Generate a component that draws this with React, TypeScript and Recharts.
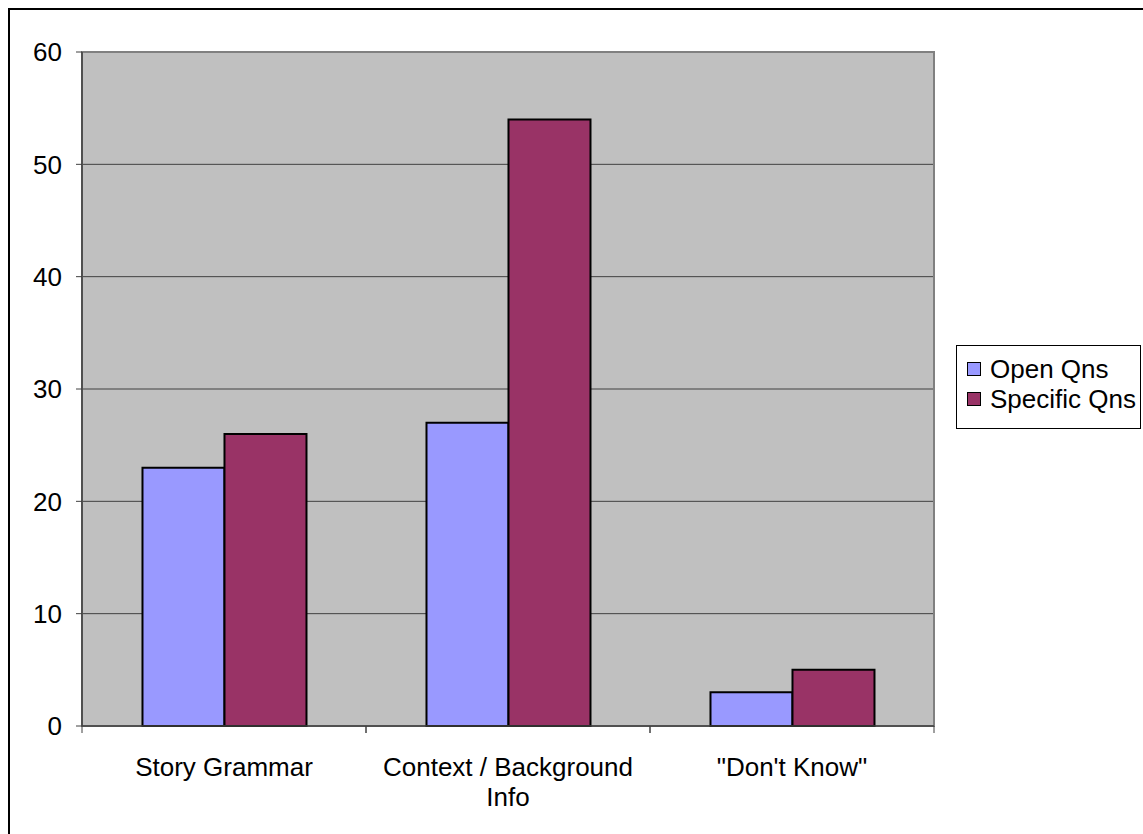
import React from "react";
import { BarChart, Bar, XAxis, YAxis, CartesianGrid, Legend, ReferenceArea } from "recharts";

const categories = ["Story Grammar", "Context / Background Info", "\"Don't Know\""];
const categoryLines = [["Story Grammar"], ["Context / Background", "Info"], ["\"Don't Know\""]];
const openQns = [23, 27, 3];
const specificQns = [26, 54, 5];
const yTicks = [0, 10, 20, 30, 40, 50, 60];
const seriesNames = ["Open Qns", "Specific Qns"];
const seriesColors = ["#9999FF", "#993366"];

const data = categories.map((c, i) => ({
  name: c,
  open: openQns[i],
  specific: specificQns[i],
}));

const FONT = "'Liberation Sans', Arial, sans-serif";

const CatTick = (props: any) => {
  const { x, y, payload, index } = props;
  const off = payload && typeof payload.offset === "number" ? payload.offset : 142;
  const lines = categoryLines[index] || [String(payload.value)];
  return (
    <g>
      <line x1={x - off} y1={y} x2={x - off} y2={y + 7} stroke="#404040" strokeWidth={1} />
      <line x1={x + off} y1={y} x2={x + off} y2={y + 7} stroke="#404040" strokeWidth={1} />
      {lines.map((l: string, k: number) => (
        <text key={k} x={x} y={y + 50 + k * 30} textAnchor="middle" fill="#000" fontSize={26} fontFamily={FONT}>
          {l}
        </text>
      ))}
    </g>
  );
};

const LegendBox = () => (
  <div
    style={{
      border: "1px solid #000",
      background: "#fff",
      width: 185,
      height: 84,
      boxSizing: "border-box",
      fontFamily: FONT,
      fontSize: 26,
      color: "#000",
      position: "relative",
    }}
  >
    {seriesNames.map((n, i) => (
      <div key={n} style={{ position: "absolute", left: 10, top: 8 + i * 30, height: 30, display: "flex", alignItems: "center", whiteSpace: "nowrap" }}>
        <span style={{ display: "inline-block", width: 12, height: 12, background: seriesColors[i], border: "1.5px solid #000", marginRight: 9 }} />
        <span style={{ lineHeight: "30px" }}>{n}</span>
      </div>
    ))}
  </div>
);

export default function App() {
  return (
    <div style={{ width: 1133, height: 824, marginLeft: 8, marginTop: 8, borderLeft: "2px solid #000", borderTop: "2px solid #000", background: "#fff", position: "relative" }}>
      <style>{"html,body{margin:0;padding:0;overflow:hidden;}"}</style>
      <BarChart
        width={1133}
        height={824}
        data={data}
        margin={{ top: 42, right: 209, bottom: 48, left: 0 }}
        barCategoryGap="21.3%"
        barGap={0}
      >
        <CartesianGrid vertical={false} stroke="#404040" fill="#C0C0C0" fillOpacity={1} />
        <ReferenceArea y1={0} y2={60} fill="none" stroke="#808080" strokeWidth={2} ifOverflow="visible" />
        <XAxis
          dataKey="name"
          height={60}
          tickLine={false}
          tickSize={0}
          tickMargin={0}
          axisLine={{ stroke: "#404040", strokeWidth: 1.5 }}
          tick={<CatTick />}
          interval={0}
        />
        <YAxis
          width={72}
          domain={[0, 60]}
          ticks={yTicks}
          tickSize={6}
          tickMargin={14}
          axisLine={{ stroke: "#404040", strokeWidth: 1.5 }}
          tickLine={{ stroke: "#404040" }}
          tick={{ fill: "#000", fontSize: 26, fontFamily: FONT }}
          allowDecimals={false}
        />
        <Legend
          align="center"
          verticalAlign="middle"
          layout="vertical"
          content={<LegendBox />}
          wrapperStyle={{ left: 946, top: 335, width: 185, height: 84 }}
        />
        <Bar dataKey="open" name={seriesNames[0]} fill={seriesColors[0]} stroke="#000" strokeWidth={2} isAnimationActive={false} />
        <Bar dataKey="specific" name={seriesNames[1]} fill={seriesColors[1]} stroke="#000" strokeWidth={2} isAnimationActive={false} />
      </BarChart>
    </div>
  );
}
